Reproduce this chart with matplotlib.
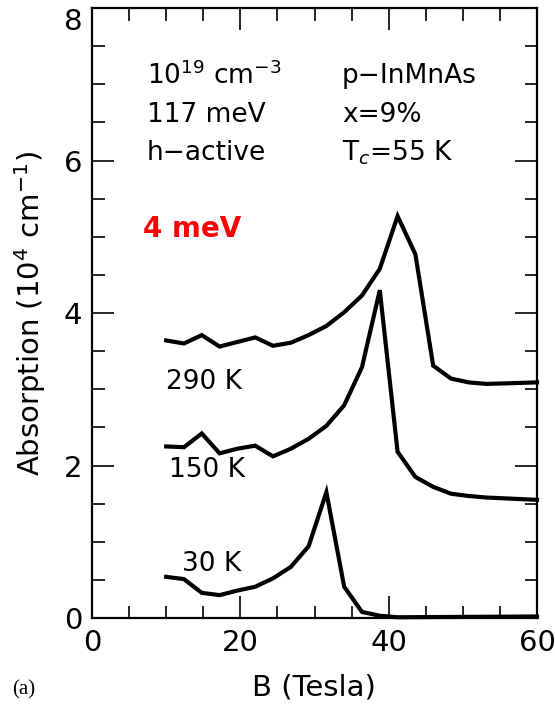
import matplotlib
matplotlib.use('Agg')
import matplotlib.pyplot as plt
from matplotlib.ticker import MultipleLocator

# B field (Tesla) and absorption (10^4 cm^-1)
b_290 = [10.0, 12.4, 14.8, 17.2, 19.6, 22.0, 24.4, 26.8, 29.2, 31.6, 34.0, 36.4, 38.8, 41.2, 43.6, 46.0, 48.4, 50.8, 53.2, 60.0]
a_290 = [3.64, 3.60, 3.71, 3.56, 3.62, 3.68, 3.57, 3.61, 3.71, 3.83, 4.01, 4.23, 4.58, 5.27, 4.77, 3.31, 3.14, 3.09, 3.07, 3.09]

b_150 = [10.0, 12.4, 14.8, 17.2, 19.6, 22.0, 24.4, 26.8, 29.2, 31.6, 34.0, 36.4, 38.8, 41.2, 43.6, 46.0, 48.4, 50.8, 53.2, 60.0]
a_150 = [2.25, 2.24, 2.42, 2.16, 2.22, 2.26, 2.12, 2.22, 2.35, 2.52, 2.79, 3.29, 4.30, 2.18, 1.85, 1.72, 1.63, 1.60, 1.58, 1.55]

b_30 = [10.0, 12.4, 14.8, 17.2, 19.6, 22.0, 24.4, 26.8, 29.2, 31.6, 34.0, 36.4, 38.8, 41.2, 60.0]
a_30 = [0.54, 0.51, 0.33, 0.30, 0.36, 0.41, 0.52, 0.67, 0.94, 1.65, 0.41, 0.08, 0.03, 0.01, 0.02]

curve_labels = ['290 K', '150 K', '30 K']
label_pos = [(10.0, 3.09), (10.4, 1.94), (12.1, 0.71)]

plt.rcParams['font.family'] = 'DejaVu Sans'
plt.rcParams['mathtext.fontset'] = 'dejavusans'

fig = plt.figure(figsize=(5.55, 7.08), dpi=100)
ax = fig.add_axes([0.1658, 0.1271, 0.8018, 0.8616])

for b, a in [(b_290, a_290), (b_150, a_150), (b_30, a_30)]:
    ax.plot(b, a, color='black', lw=3.0, solid_joinstyle='miter', clip_on=False)

ax.set_xlim(0, 60)
ax.set_ylim(0, 8)
ax.set_yticks([0, 2, 4, 6, 8], labels=['0', '2', '4', '6', '8'])
ax.xaxis.set_major_locator(MultipleLocator(20))
ax.xaxis.set_minor_locator(MultipleLocator(5))
ax.yaxis.set_minor_locator(MultipleLocator(0.5))
ax.tick_params(which='both', direction='in', top=True, right=True, width=1.2, labelsize=21)
ax.tick_params(which='major', length=16)
ax.tick_params(which='minor', length=9)
ax.tick_params(axis='x', pad=8)
ax.tick_params(axis='y', pad=7)
for s in ax.spines.values():
    s.set_linewidth(1.6)

# top label "8" sits below the frame edge in the original
for t in ax.get_yticklabels():
    if t.get_text() == '8':
        t.set_verticalalignment('top')

ax.set_xlabel('B (Tesla)', fontsize=21, va='center')
ax.set_ylabel(r'Absorption (10$^4$ cm$^{-1}$)', fontsize=21, va='center')
ax.xaxis.set_label_coords(0.499, -0.114)
ax.yaxis.set_label_coords(-0.139, 0.50)

fs = 19
ax.text(7.4, 7.11, r'10$^{19}$ cm$^{-3}$', fontsize=fs, va='center')
ax.text(7.4, 6.60, '117 meV', fontsize=fs, va='center')
ax.text(7.4, 6.10, 'h\u2212active', fontsize=fs, va='center')
ax.text(33.7, 7.11, 'p\u2212InMnAs', fontsize=fs, va='center')
ax.text(33.7, 6.60, 'x=9%', fontsize=fs, va='center')
ax.text(33.7, 6.10, r'T$_c$=55 K', fontsize=fs, va='center')
ax.text(6.9, 5.10, '4 meV', fontsize=20, color='red', fontweight='bold', va='center')

for lab, (x, y) in zip(curve_labels, label_pos):
    ax.text(x, y, lab, fontsize=fs, va='center')

fig.text(12 / 555, 1 - 690 / 708, '(a)', fontsize=15, family='Liberation Serif', va='center')

fig.savefig('out.png', dpi=100)
